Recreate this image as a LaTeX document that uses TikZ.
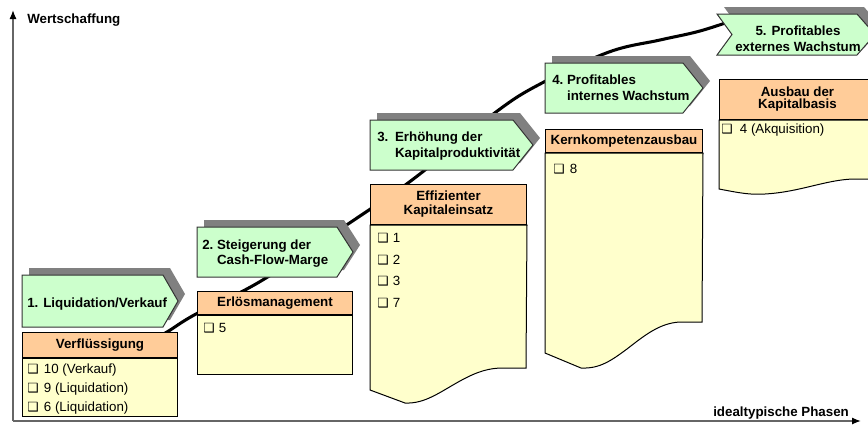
\documentclass[tikz,border=0pt]{standalone}
\usepackage{fontspec}
\setmainfont{Liberation Sans}
\newfontfamily\symfont{DejaVu Sans}
\usepackage{xcolor}
\usepackage{tikz}
\usetikzlibrary{arrows.meta, positioning, shadows}

\definecolor{chevgreen}{HTML}{CCFFCC}
\definecolor{headorange}{HTML}{FFCC99}
\definecolor{bodyyellow}{HTML}{FFFFCC}
\newcommand{\chk}{{\symfont\fontsize{9.5}{9.5}\selectfont ❑}}

\begin{document}
\begin{tikzpicture}[
  x=0.75pt, y=-0.75pt,
  font=\fontsize{10}{12}\selectfont,
  axis/.style={line width=1pt, draw=black!60, -{Latex[color=black, length=6.75pt, width=5.25pt]}},
  axlabel/.style={font=\fontsize{10}{12}\selectfont\bfseries, inner sep=0pt, anchor=base west},
  curve/.style={line width=2.3pt, line cap=round},
  chev/.style={fill=chevgreen, draw=black!80, line width=0.75pt,
               drop shadow={shadow xshift=5.25pt, shadow yshift=5.25pt, fill=black!50, opacity=1}},
  chevtext/.style={font=\fontsize{10}{11.5}\selectfont\bfseries, inner sep=0pt, anchor=west},
  head/.style={draw, fill=headorange, line width=0.75pt, minimum width=116.25pt,
               minimum height=17.25pt, inner xsep=1pt, inner ysep=0pt, align=center,
               font=\fontsize{10}{10.5}\selectfont\bfseries, anchor=north west},
  body/.style={draw, fill=bodyyellow, line width=0.75pt},
  item/.style={inner sep=0pt, anchor=base west},
]
\useasboundingbox (0,0) rectangle (868,425);

% axes
\coordinate (o) at (13,421);
\draw[axis] (o) -- (13,10);
\draw[axis] (o) -- (861,421);
\node[axlabel] (ylab) at (27,23) {Wertschaffung};
\node[axlabel] (xlab) at (713,416) {idealtypische Phasen};

% value curve
\draw[curve] plot[smooth, tension=0.6] coordinates {(150,341) (167,332) (196,314) (261,281)
  (357,218) (416,177) (496,112) (542,83) (609,52) (660,40) (700,31) (740,18)};

% phases
\draw[chev] (22,275) -- (163,275) -- (178,301) -- (163,327) -- (22,327) -- cycle;
\draw[chev] (197,227) -- (337,227) -- (353,252) -- (337,277) -- (197,277) -- cycle;
\draw[chev] (370,120) -- (513,120) -- (533,145) -- (513,170) -- (370,170) -- cycle;
\draw[chev] (545,63) -- (683,63) -- (703,88) -- (683,113) -- (545,113) -- cycle;
\draw[chev] (717,14) -- (857,14) -- (875,34.5) -- (857,55) -- (717,55) -- (732,34.5) -- cycle;

\node[chevtext, anchor=base west] (c1) at (27,307) {1. Liquidation/Verkauf};
\node[chevtext] (c2) at (202,254) {\begin{tabular}{@{}l@{\ }l@{}}2. & Steigerung der\\ & Cash-Flow-Marge\end{tabular}};
\node[chevtext] (c3) at (377,146.5) {\begin{tabular}{@{}l@{\hspace{5pt}}l@{}}3. & Erhöhung der\\ & Kapitalproduktivität\end{tabular}};
\node[chevtext] (c4) at (552,89.5) {\begin{tabular}{@{}l@{\ }l@{}}4. & Profitables\\ & internes Wachstum\end{tabular}};
\node[chevtext, anchor=center] (c5) at (798,40.5) {\begin{tabular}{@{}c@{}}5. Profitables\\externes Wachstum\end{tabular}};

% box 1
\node[head, minimum height=18.75pt] (h1) at (22,332) {Verflüssigung};
\draw[body] (h1.south west) rectangle (177,416);
\foreach \t [count=\k] in {10 (Verkauf), 9 (Liquidation), 6 (Liquidation)}
  \node[item] (v\k) at (27,{354+19*\k}) {\makebox[12.5pt][l]{\chk}\t};

% box 2
\node[head] (h2) at (197,291) {Erlösmanagement};
\draw[body] (h2.south west) rectangle (352,374);
\node[item] (e1) at (203,332) {\makebox[11.75pt][l]{\chk}5};

% box 3
\node[head, minimum width=117pt, minimum height=30pt] (h3) at (370,184) {Effizienter\\Kapitaleinsatz};
\draw[body] (h3.south west) -- (370,390) -- (405,403) .. controls (425,404) and (440,392) .. (460,381)
  .. controls (478,371) and (490,368) .. (503,368) -- (526,368) -- (h3.south east) -- cycle;
\foreach \t [count=\k] in {1, 2, 3, 7}
  \node[item] (k\k) at (377,{221.5+21.4*\k}) {\makebox[11.75pt][l]{\chk}\t};

% box 4
\node[head, minimum width=117.75pt] (h4) at (545,129) {Kernkompetenzausbau};
\draw[body] (h4.south west) -- (545,353) -- (581,368) .. controls (600,369) and (612,360) .. (627,349)
  .. controls (645,335) and (660,323) .. (680,322) -- (702,322) -- (h4.south east) -- cycle;
\node[item] (m1) at (553,173) {\makebox[12.5pt][l]{\chk}8};

% box 5
\node[head, minimum width=117pt, minimum height=30pt, font=\fontsize{10}{9}\selectfont\bfseries] (h5) at (719,79) {Ausbau der\\Kapitalbasis};
\draw[body] (h5.south west) -- (719,189) .. controls (740,193) and (750,195) .. (765,194)
  .. controls (800,192) and (825,180) .. (853,179) -- (875,179) -- (h5.south east) -- cycle;
\node[item] (a1) at (721,133.5) {\makebox[14pt][l]{\chk}4 (Akquisition)};

\end{tikzpicture}
\end{document}
